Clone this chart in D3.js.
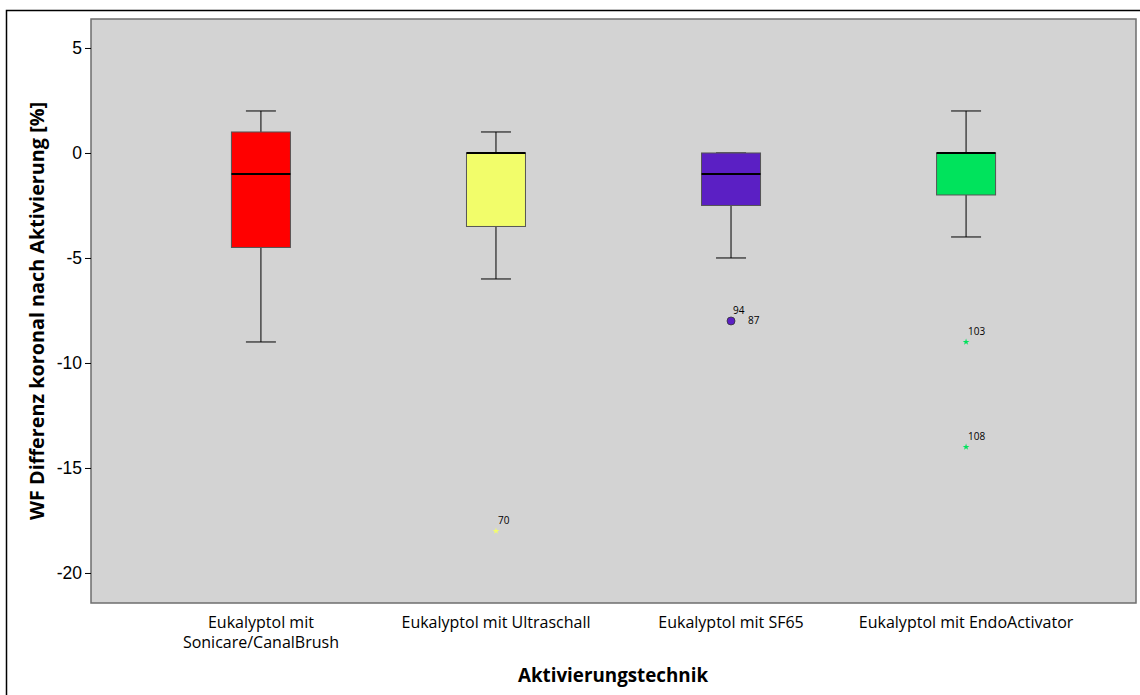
<!DOCTYPE html>
<html>
<head>
<meta charset="utf-8">
<script src="https://cdn.jsdelivr.net/npm/d3@7"></script>
<style>
  html, body { margin: 0; padding: 0; background: #fff; }
  svg { display: block; font-family: "Open Sans", "DejaVu Sans", sans-serif; }
</style>
</head>
<body>
<svg id="chart" width="1140" height="695"></svg>
<script>
// Category labels (line-broken as on the axis)
const categories = [
  ["Eukalyptol mit", "Sonicare/CanalBrush"],
  ["Eukalyptol mit Ultraschall"],
  ["Eukalyptol mit SF65"],
  ["Eukalyptol mit EndoActivator"]
];
// Box-plot statistics per group
const whiskerLow  = [-9, -6, -5, -4];
const q1          = [-4.5, -3.5, -2.5, -2];
const median      = [-1, 0, -1, 0];
const q3          = [1, 0, 0, 0];
const whiskerHigh = [2, 1, 0, 2];
const boxColors   = ["#ff0000", "#f2fd6a", "#5b1fc4", "#00e35c"];
// Outliers: group index, value, case label, marker type
const outlierGroup = [1, 2, 2, 3, 3];
const outlierValue = [-18, -8, -8, -9, -14];
const outlierLabel = ["70", "94", "87", "103", "108"];
const outlierKind  = ["extreme", "mild", "mild", "extreme", "extreme"];
const yTicks = [5, 0, -5, -10, -15, -20];

const svg = d3.select("#chart");
const plot = { left: 91, top: 19, right: 1136, bottom: 603 };

// outer frame
svg.append("rect")
  .attr("x", 6.5).attr("y", 10.5)
  .attr("width", 1150).attr("height", 700)
  .attr("fill", "none").attr("stroke", "#000").attr("stroke-width", 1.5);

const y = d3.scaleLinear().domain([-21.43, 6.38]).range([plot.bottom, plot.top]);
const x = d3.scalePoint().domain(d3.range(categories.length))
  .range([plot.left, plot.right]).padding(0.723);

// plot background
svg.append("rect")
  .attr("x", plot.left).attr("y", plot.top)
  .attr("width", plot.right - plot.left).attr("height", plot.bottom - plot.top)
  .attr("fill", "#d3d3d3").attr("stroke", "#6e6e6e").attr("stroke-width", 1.5);

// y axis (plain hyphen for negatives)
const yAxis = svg.append("g")
  .attr("transform", `translate(${plot.left},0)`)
  .call(d3.axisLeft(y).tickValues(yTicks).tickSize(6).tickPadding(3).tickFormat(d => String(d)));
yAxis.select(".domain").remove();
yAxis.selectAll(".tick line").attr("stroke", "#000");
yAxis.selectAll(".tick text").attr("font-size", 17.5).attr("fill", "#000");

// x axis labels
const xAxis = svg.append("g");
categories.forEach((lines, i) => {
  const t = xAxis.append("text")
    .attr("x", x(i)).attr("y", 628)
    .attr("text-anchor", "middle").attr("font-size", 16).attr("fill", "#000");
  lines.forEach((ln, j) => {
    t.append("tspan").attr("x", x(i)).attr("dy", j === 0 ? 0 : 20).text(ln);
  });
});

// axis titles
svg.append("text")
  .attr("x", 613).attr("y", 682)
  .attr("text-anchor", "middle").attr("font-size", 18.8).attr("font-weight", "bold")
  .text("Aktivierungstechnik");
svg.append("text")
  .attr("transform", `translate(44,311) rotate(-90)`)
  .attr("text-anchor", "middle").attr("font-size", 19.8).attr("font-weight", "bold")
  .text("WF Differenz koronal nach Aktivierung [%]");

// boxes
const boxW = 59, capW = 30;
const g = svg.append("g");
categories.forEach((_, i) => {
  const cx = x(i);
  // whisker stems
  g.append("line").attr("x1", cx).attr("x2", cx)
    .attr("y1", y(whiskerLow[i])).attr("y2", y(q1[i]))
    .attr("stroke", "#000").attr("stroke-width", 1);
  g.append("line").attr("x1", cx).attr("x2", cx)
    .attr("y1", y(whiskerHigh[i])).attr("y2", y(q3[i]))
    .attr("stroke", "#000").attr("stroke-width", 1);
  // caps
  [whiskerLow[i], whiskerHigh[i]].forEach(v => {
    g.append("line").attr("x1", cx - capW / 2).attr("x2", cx + capW / 2)
      .attr("y1", y(v)).attr("y2", y(v))
      .attr("stroke", "#000").attr("stroke-width", 1);
  });
  // box
  g.append("rect")
    .attr("x", cx - boxW / 2).attr("y", y(q3[i]))
    .attr("width", boxW).attr("height", y(q1[i]) - y(q3[i]))
    .attr("fill", boxColors[i]).attr("stroke", "#555").attr("stroke-width", 1);
  // median
  g.append("line").attr("x1", cx - boxW / 2).attr("x2", cx + boxW / 2)
    .attr("y1", y(median[i])).attr("y2", y(median[i]))
    .attr("stroke", "#000").attr("stroke-width", 2);
});

// outliers
const star = d3.symbol().type(d3.symbolStar).size(14);
const labelOffsets = { "94": [2, -10], "87": [17, 0] };
outlierValue.forEach((v, k) => {
  const i = outlierGroup[k];
  const cx = x(i), cy = y(v);
  if (outlierKind[k] === "mild") {
    if (k === outlierLabel.indexOf("94")) {
      g.append("circle").attr("cx", cx).attr("cy", cy).attr("r", 4)
        .attr("fill", boxColors[i]).attr("stroke", "#333").attr("stroke-width", 0.8);
    }
  } else {
    g.append("path").attr("d", star).attr("transform", `translate(${cx},${cy})`)
      .attr("fill", boxColors[i]);
  }
  const off = labelOffsets[outlierLabel[k]] || [2, -10];
  g.append("text")
    .attr("x", cx + off[0]).attr("y", cy + off[1] + 3)
    .attr("font-size", 10).attr("fill", "#000")
    .text(outlierLabel[k]);
});
</script>
</body>
</html>
